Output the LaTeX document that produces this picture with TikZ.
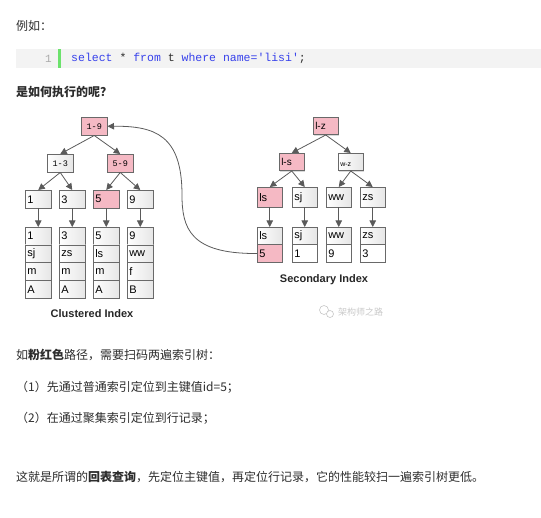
\documentclass[tikz,border=0pt]{standalone}
\usepackage{fontspec}
\setmainfont{Liberation Sans}
\setmonofont{Liberation Mono}
\newfontfamily\cjk{Noto Sans CJK SC}
\usetikzlibrary{arrows.meta,shadows,calc}
\definecolor{pinkc}{RGB}{245,185,196}
\definecolor{bdr}{RGB}{105,105,105}
\definecolor{arrc}{RGB}{90,90,90}
\definecolor{txt}{RGB}{45,45,45}
\definecolor{kw}{RGB}{55,65,235}
\definecolor{codebg}{RGB}{243,243,243}
\definecolor{lnum}{RGB}{170,170,170}
\definecolor{gbar}{RGB}{108,226,108}
\definecolor{wm}{RGB}{200,200,200}
\begin{document}
\begin{tikzpicture}[x=1pt,y=-1pt,
  box/.style={draw=bdr, line width=0.5pt, anchor=north west, inner sep=1.5pt,
    left color=white, right color=black!10,
    drop shadow={shadow xshift=1pt, shadow yshift=-1pt, opacity=0.3}},
  pk/.style={left color=pinkc, right color=pinkc},
  inode/.style={box, minimum width=26pt, minimum height=18pt, font=\ttfamily\fontsize{8.5}{9}\selectfont},
  rnode/.style={box, minimum width=25pt, minimum height=17.5pt, text width=21pt, align=left, font=\fontsize{10}{11}\selectfont},
  leaf/.style={box, minimum width=26pt, minimum height=18pt, text width=22pt, align=left, font=\fontsize{11}{12}\selectfont},
  rec/.style={box, minimum width=26pt, minimum height=17.75pt, text width=22pt, align=left, font=\fontsize{11}{12}\selectfont},
  srec/.style={box, minimum width=25pt, minimum height=17.5pt, text width=21pt, align=left, font=\fontsize{11}{12}\selectfont},
  arr/.style={draw=arrc, line width=0.8pt, -{Triangle[length=6.5pt,width=6.5pt]}},
  para/.style={anchor=west, inner sep=0pt, text=txt, font=\cjk\fontsize{12}{14}\selectfont},
  title/.style={inner sep=0pt, text=black!85, font=\bfseries\fontsize{11}{13}\selectfont}
]
\useasboundingbox (0,0) rectangle (541,518);

% --- top text and code block ---
\node[para] (t1) at (16,26) {例如：};
\node[fill=codebg, anchor=north west, minimum width=525pt, minimum height=19pt, inner sep=0pt] (codebg) at (16,49) {};
\fill[gbar] (58,49) rectangle (60.5,68);
\node[anchor=east, inner sep=0pt, text=lnum, font=\ttfamily\fontsize{11}{12}\selectfont] (ln) at (52,58.5) {1};
\node[anchor=west, inner sep=0pt, text=txt, font=\ttfamily\fontsize{11.5}{13}\selectfont] (code) at (71,58.5)
  {\textcolor{kw}{select} * \textcolor{kw}{from} t \textcolor{kw}{where} \textcolor{kw}{name='lisi'};};
\node[para, font=\cjk\bfseries\fontsize{12}{14}\selectfont] (t2) at (16,92) {是如何执行的呢？};

% --- clustered index ---
\node[inode,pk] (L19) at (81,117) {1-9};
\node[inode] (L13) at (47,154) {1-3};
\node[inode,pk] (L59) at (107,154) {5-9};
\node[leaf] (La) at (25,190) {1};
\node[leaf] (Lb) at (59,190) {3};
\node[leaf,pk] (Lc) at (93,190) {5};
\node[leaf] (Ld) at (127,190) {9};
\foreach \x/\n/\p/\q/\r/\s in {25/a/1/sj/m/A, 59/b/3/zs/m/A, 93/c/5/ls/m/A, 127/d/9/ww/f/B}{
  \node[rec] (C\n1) at (\x,227) {\p};
  \node[rec] (C\n2) at (\x,244.75) {\q};
  \node[rec] (C\n3) at (\x,262.5) {\r};
  \node[rec] (C\n4) at (\x,280.25) {\s};
}
\draw[arr] (L19.south) -- (L13.north);
\draw[arr] (L19.south) -- (L59.north);
\draw[arr] (L13.south) -- (La.north);
\draw[arr] (L13.south) -- (Lb.north);
\draw[arr] (L59.south) -- (Lc.north);
\draw[arr] (L59.south) -- (Ld.north);
\draw[arr] (La.south) -- (Ca1.north);
\draw[arr] (Lb.south) -- (Cb1.north);
\draw[arr] (Lc.south) -- (Cc1.north);
\draw[arr] (Ld.south) -- (Cd1.north);
\node[title] (cl) at (92,314) {Clustered Index};

% --- secondary index ---
\node[rnode,pk] (Rlz) at (313,117) {l-z};
\node[rnode,pk] (Rls) at (279,153) {l-s};
\node[rnode,font=\fontsize{7}{8}\selectfont, text height=9pt] (Rwz) at (338,153) {w-z};
\node[srec,pk,minimum height=20pt] (Sa) at (257,187) {ls};
\node[srec,minimum height=20pt] (Sb) at (292,187) {sj};
\node[srec,minimum height=20pt] (Sc) at (326,187) {ww};
\node[srec,minimum height=20pt] (Sd) at (360,187) {zs};
\node[srec] (Sa1) at (257,227) {ls};
\node[srec,pk] (Sa2) at (257,244.5) {5};
\node[srec] (Sb1) at (292,227) {sj};
\node[srec,right color=white] (Sb2) at (292,244.5) {1};
\node[srec] (Sc1) at (326,227) {ww};
\node[srec,right color=white] (Sc2) at (326,244.5) {9};
\node[srec] (Sd1) at (360,227) {zs};
\node[srec,right color=white] (Sd2) at (360,244.5) {3};
\draw[arr] (Rlz.south) -- (Rls.north);
\draw[arr] (Rlz.south) -- (Rwz.north);
\draw[arr] (Rls.south) -- (Sa.north);
\draw[arr] (Rls.south) -- (Sb.north);
\draw[arr] (Rwz.south) -- (Sc.north);
\draw[arr] (Rwz.south) -- (Sd.north);
\draw[arr] (Sa.south) -- (Sa1.north);
\draw[arr] (Sb.south) -- (Sb1.north);
\draw[arr] (Sc.south) -- (Sc1.north);
\draw[arr] (Sd.south) -- (Sd1.north);
\node[title] (sc) at (324,280) {Secondary Index};

% --- back-to-table curve ---
\draw[arr] (Sa2.west) .. controls (190,254) and (182,228) .. (182,195)
  .. controls (182,135) and (155,126) .. (L19.east);

% --- watermark ---
\draw[wm, line width=0.6pt, fill=white] (324,310) circle (4.5);
\draw[wm, line width=0.6pt, fill=white] (330,314) circle (3.5);
\node[anchor=west, inner sep=0pt, text=wm, font=\cjk\fontsize{9}{10}\selectfont] (wmk) at (338,312) {架构师之路};

% --- bottom text ---
\node[para] (t3) at (16,355) {如{\bfseries 粉红色}路径，需要扫码两遍索引树：};
\node[para] (t4) at (16,387) {（1）先通过普通索引定位到主键值id=5；};
\node[para] (t5) at (16,418) {（2）在通过聚集索引定位到行记录；};
\node[para] (t6) at (16,477) {这就是所谓的{\bfseries 回表查询}，先定位主键值，再定位行记录，它的性能较扫一遍索引树更低。};
\end{tikzpicture}
\end{document}
